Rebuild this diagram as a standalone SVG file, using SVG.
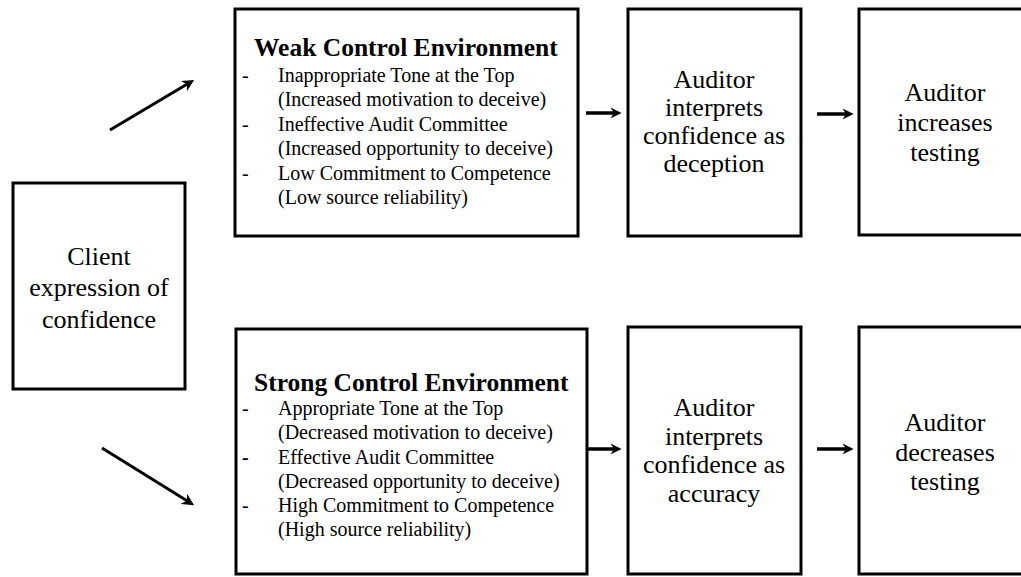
<svg xmlns="http://www.w3.org/2000/svg" width="1021" height="577" viewBox="0 0 1021 577">
<defs>
<style>
.box{fill:#fff;stroke:#000;stroke-width:3}
.t{font-family:"Liberation Serif","Times New Roman",serif;fill:#000}
.big{font-size:26px;text-anchor:middle}
.ttl{font-size:25.5px;font-weight:bold}
.sm{font-size:20px}
.arr{stroke:#000;stroke-width:3.5;fill:none;marker-end:url(#ah)}
.diag{stroke:#000;stroke-width:3;fill:none;marker-end:url(#ah2)}
</style>
<marker id="ah" viewBox="0 0 10 10" refX="4" refY="5" markerWidth="11" markerHeight="11" markerUnits="userSpaceOnUse" orient="auto">
<path d="M0,0 L10,5 L0,10 L3,5 z" fill="#000"/>
</marker>
<marker id="ah2" viewBox="0 0 10 10" refX="5" refY="5" markerWidth="12" markerHeight="12" markerUnits="userSpaceOnUse" orient="auto">
<path d="M0,0 L10,5 L0,10 L3,5 z" fill="#000"/>
</marker>
</defs>
<rect width="1021" height="577" fill="#fff"/>

<g id="connectors">
<line class="diag" x1="110" y1="130" x2="189" y2="83"/>
<line class="diag" x1="102" y1="448" x2="189" y2="502"/>
<line class="arr" x1="586" y1="113" x2="615" y2="113"/>
<line class="arr" x1="817" y1="114" x2="847" y2="114"/>
<line class="arr" x1="586" y1="449" x2="615" y2="449"/>
<line class="arr" x1="817" y1="449" x2="847" y2="449"/>
</g>

<g id="client">
<rect class="box" x="13" y="183" width="172" height="206"/>
<text class="t big" x="99" y="265">Client</text>
<text class="t big" x="99" y="296">expression of</text>
<text class="t big" x="99" y="328">confidence</text>
</g>

<g id="weak">
<rect class="box" x="235" y="9" width="343" height="227"/>
<text class="t ttl" x="254" y="56">Weak Control Environment</text>
<text class="t sm" x="242" y="82">-</text>
<text class="t sm" x="278" y="82">Inappropriate Tone at the Top</text>
<text class="t sm" x="278" y="106">(Increased motivation to deceive)</text>
<text class="t sm" x="242" y="131">-</text>
<text class="t sm" x="278" y="131">Ineffective Audit Committee</text>
<text class="t sm" x="278" y="155">(Increased opportunity to deceive)</text>
<text class="t sm" x="242" y="180">-</text>
<text class="t sm" x="278" y="180">Low Commitment to Competence</text>
<text class="t sm" x="278" y="204">(Low source reliability)</text>
</g>

<g id="strong">
<rect class="box" x="236" y="329" width="351" height="245"/>
<text class="t ttl" x="254" y="391">Strong Control Environment</text>
<text class="t sm" x="242" y="415">-</text>
<text class="t sm" x="278" y="415">Appropriate Tone at the Top</text>
<text class="t sm" x="278" y="439">(Decreased motivation to deceive)</text>
<text class="t sm" x="242" y="464" font-weight="bold">-</text>
<text class="t sm" x="278" y="464">Effective Audit Committee</text>
<text class="t sm" x="278" y="488">(Decreased opportunity to deceive)</text>
<text class="t sm" x="242" y="512">-</text>
<text class="t sm" x="278" y="512">High Commitment to Competence</text>
<text class="t sm" x="278" y="536">(High source reliability)</text>
</g>

<g id="interp-deception">
<rect class="box" x="628" y="9" width="173" height="227"/>
<text class="t big" x="714" y="88">Auditor</text>
<text class="t big" x="714" y="116">interprets</text>
<text class="t big" x="714" y="144">confidence as</text>
<text class="t big" x="714" y="172">deception</text>
</g>

<g id="increase">
<rect class="box" x="859" y="9" width="175" height="226"/>
<text class="t big" x="945" y="101">Auditor</text>
<text class="t big" x="945" y="131">increases</text>
<text class="t big" x="945" y="161">testing</text>
</g>

<g id="interp-accuracy">
<rect class="box" x="628" y="327" width="173" height="247"/>
<text class="t big" x="714" y="416">Auditor</text>
<text class="t big" x="714" y="445">interprets</text>
<text class="t big" x="714" y="473">confidence as</text>
<text class="t big" x="714" y="502">accuracy</text>
</g>

<g id="decrease">
<rect class="box" x="859" y="327" width="175" height="247"/>
<text class="t big" x="945" y="431">Auditor</text>
<text class="t big" x="945" y="461">decreases</text>
<text class="t big" x="945" y="490">testing</text>
</g>
</svg>
